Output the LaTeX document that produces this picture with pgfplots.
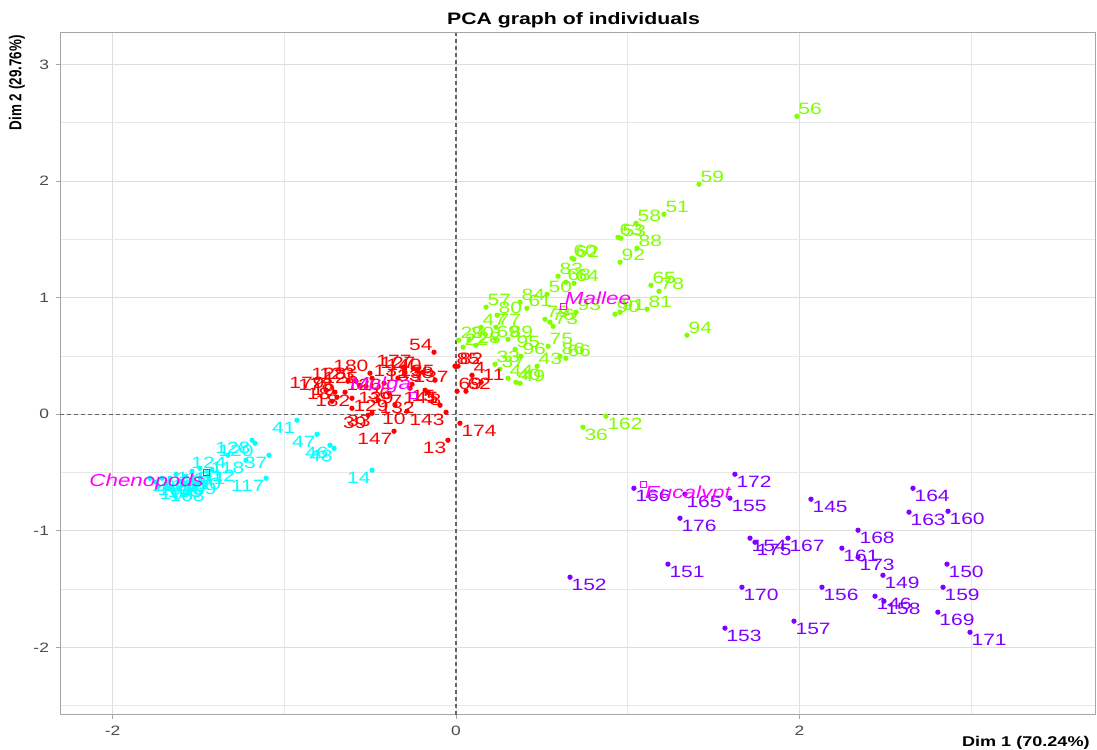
\documentclass[border=0pt]{standalone}
\usepackage{pgfplots}
\pgfplotsset{compat=1.18}
\usepackage{pgfplotstable}
\usepackage{fontspec}
\setmainfont[FakeStretch=1.28]{Liberation Sans}
\newfontfamily\ylabfont[FakeStretch=0.78]{Liberation Sans}
\definecolor{cheno}{HTML}{00FFFF}
\definecolor{mulga}{HTML}{FF0000}
\definecolor{mallee}{HTML}{80FF00}
\definecolor{euc}{HTML}{8000FF}
\definecolor{cent}{HTML}{FF00FF}
\newcommand\labfont{\fontsize{8.2}{9}\selectfont}
\newcommand\centfont{\itshape\fontsize{8.75}{10}\selectfont}
\newcommand\tickfont{\fontsize{6.8}{8}\selectfont}

% Eucalypt (labels below right)
\pgfplotstableread{
x y lab
1.624 -0.515 172
1.036 -0.635 166
1.333 -0.686 165
1.595 -0.720 155
1.304 -0.892 176
2.067 -0.729 145
2.661 -0.635 164
2.638 -0.840 163
2.865 -0.832 160
2.341 -0.995 168
2.247 -1.149 161
2.341 -1.226 173
1.712 -1.063 154
1.741 -1.098 175
1.933 -1.063 167
1.234 -1.286 151
0.664 -1.398 152
1.665 -1.484 170
2.131 -1.484 156
2.486 -1.381 149
2.859 -1.286 150
2.836 -1.484 159
2.440 -1.561 146
2.492 -1.604 158
2.806 -1.698 169
2.993 -1.870 171
1.566 -1.835 153
1.968 -1.775 157
}\tabEucLR

% Mallee (labels above right)
\pgfplotstableread{
x y lab
1.985 2.556 56
1.415 1.973 59
1.211 1.715 51
1.048 1.638 58
0.943 1.518 63
0.961 1.509 53
1.054 1.424 88
0.955 1.304 92
0.675 1.338 60
0.687 1.329 62
0.594 1.184 83
0.640 1.132 68
0.687 1.123 64
0.530 1.029 50
0.699 0.875 93
0.926 0.858 90
0.955 0.875 91
1.135 1.106 65
1.182 1.055 78
1.112 0.901 81
1.345 0.678 94
0.175 0.918 57
0.239 0.849 80
0.373 0.961 84
0.413 0.909 61
0.518 0.815 79
0.547 0.789 76
0.565 0.755 73
0.536 0.583 75
0.606 0.497 86
0.640 0.480 66
0.472 0.412 43
0.349 0.274 40
0.373 0.266 49
0.227 0.429 33
0.256 0.386 37
0.344 0.557 95
0.378 0.497 96
0.146 0.746 47
0.233 0.746 77
0.227 0.643 69
0.303 0.643 89
0.017 0.635 29
0.076 0.635 20
0.041 0.575 22
0.116 0.592 28
0.303 0.309 44
}\tabMalUR
% Mallee (labels below right)
\pgfplotstableread{
x y lab
0.739 -0.111 36
0.873 -0.017 162
}\tabMalLR

% Mulga
\pgfplotstableread{
x y lab
-0.128 0.532 54
-0.757 0.206 179
-0.705 0.189 178
-0.629 0.283 128
-0.582 0.283 123
-0.501 0.352 180
-0.250 0.395 177
-0.227 0.377 127
-0.192 0.360 140
-0.122 0.292 138
-0.722 0.111 18
-0.693 0.146 19
-0.606 0.051 182
-0.559 0.249 125
-0.355 0.077 139
-0.093 0.077 141
}\tabMulUL
\pgfplotstableread{
x y lab
-0.006 0.412 85
0.012 0.412 82
0.093 0.334 4
0.146 0.274 11
0.006 0.197 69
0.058 0.197 62
-0.489 0.309 131
-0.419 0.266 133
-0.338 0.309 135
-0.256 0.257 137
-0.646 0.189 126
}\tabMulUR
\pgfplotstableread{
x y lab
0.023 -0.077 174
-0.268 0.223 15
-0.163 0.189 8
-0.180 0.206 5
-0.524 0.240 36
-0.390 0.180 7
-0.606 0.137 129
-0.454 0.120 132
}\tabMulLR
\pgfplotstableread{
x y lab
-0.047 -0.223 13
-0.361 -0.146 147
-0.285 0.026 10
-0.512 -0.009 39
-0.489 0.009 33
-0.058 0.017 143
}\tabMulLL

% Chenopods
\pgfplotstableread{
x y lab
-0.926 -0.051 41
-0.809 -0.172 47
-0.734 -0.266 46
-0.710 -0.292 48
-0.489 -0.480 14
-1.089 -0.352 37
-1.106 -0.549 117
-1.188 -0.223 128
-1.170 -0.249 120
-1.328 -0.352 124
-1.223 -0.395 118
-1.421 -0.480 115
}\tabChenLL
\pgfplotstableread{
x y lab
-1.782 -0.549 101
-1.747 -0.583 102
-1.712 -0.549 103
-1.735 -0.617 104
-1.689 -0.600 105
-1.665 -0.549 106
-1.630 -0.515 107
-1.677 -0.635 108
-1.607 -0.575 109
-1.572 -0.532 110
-1.537 -0.489 111
-1.491 -0.463 112
}\tabChenLR

\pgfplotsset{
  grp/.style 2 args={only marks, mark=*, mark size=1.1pt, color=#1,
    nodes near coords, point meta=explicit symbolic,
    every node near coord/.append style={anchor=#2, inner sep=0.6pt, text=#1, font=\labfont}},
  centr/.style 2 args={only marks, mark=square, mark size=1.5pt, color=cent, line width=0.4pt,
    nodes near coords={#2},
    every node near coord/.append style={anchor=#1, inner sep=0.8pt, text=cent, font=\centfont}}
}

\begin{document}
\begin{tikzpicture}
\begin{axis}[name=ax,
  width=517.5pt, height=341pt, scale only axis,
  xmin=-2.306, xmax=3.721, ymin=-2.58, ymax=3.27,
  xtick={-2,0,2}, ytick={-2,-1,0,1,2,3},
  minor xtick={-1,1,3}, minor ytick={-2.5,-1.5,-0.5,0.5,1.5,2.5},
  grid=both,
  major grid style={color=black!13, line width=0.5pt},
  minor grid style={color=black!9, line width=0.4pt},
  axis line style={black!35, line width=0.5pt},
  tick align=outside, major tick length=2pt, minor tick length=0pt,
  tick style={black!35, line width=0.5pt},
  xtick pos=bottom, ytick pos=left,
  ticklabel style={font=\tickfont, text=black!70},
  /pgf/number format/assume math mode=true,
  clip=false,
]
\addplot[black!60, dash pattern=on 2pt off 1.5pt, line width=0.6pt, forget plot] coordinates {(0,-2.58) (0,3.27)};
\addplot[black!60, dash pattern=on 2pt off 1.5pt, line width=0.6pt, forget plot] coordinates {(-2.306,0) (3.721,0)};
\addplot[grp={cheno}{north east}] table[x=x,y=y,meta=lab]{\tabChenLL};
\addplot[grp={cheno}{north west}] table[x=x,y=y,meta=lab]{\tabChenLR};
\addplot[grp={euc}{north west}] table[x=x,y=y,meta=lab]{\tabEucLR};
\addplot[grp={mallee}{south west}] table[x=x,y=y,meta=lab]{\tabMalUR};
\addplot[grp={mallee}{north west}] table[x=x,y=y,meta=lab]{\tabMalLR};
\addplot[grp={mulga}{south east}] table[x=x,y=y,meta=lab]{\tabMulUL};
\addplot[grp={mulga}{south west}] table[x=x,y=y,meta=lab]{\tabMulUR};
\addplot[grp={mulga}{north west}] table[x=x,y=y,meta=lab]{\tabMulLR};
\addplot[grp={mulga}{north east}] table[x=x,y=y,meta=lab]{\tabMulLL};
\addplot[centr={north east}{Chenopods}] coordinates {(-1.456,-0.497)};
\addplot[centr={north west}{Eucalypt}] coordinates {(1.089,-0.600)};
\addplot[centr={south west}{Mallee}] coordinates {(0.623,0.926)};
\addplot[centr={south east}{Mulga}] coordinates {(-0.250,0.163)};
\end{axis}
\node[font=\bfseries\fontsize{8.3}{10}\selectfont, anchor=base, inner sep=0pt] at ([xshift=-2pt,yshift=4pt]ax.north) {PCA graph of individuals};
\node[font=\bfseries\fontsize{7.06}{9}\selectfont, anchor=base east, inner sep=0pt] at ([xshift=-2.5pt,yshift=-16pt]ax.south east) {Dim 1 (70.24\%)};
\node[font=\ylabfont\bfseries\fontsize{8.6}{10}\selectfont, rotate=90, anchor=base east, inner sep=0pt] at ([xshift=-19.3pt,yshift=-1pt]ax.north west) {Dim 2 (29.76\%)};
\path ([xshift=-30pt,yshift=-17pt]ax.south west) rectangle ([xshift=1pt,yshift=16.5pt]ax.north east);
\end{tikzpicture}
\end{document}
